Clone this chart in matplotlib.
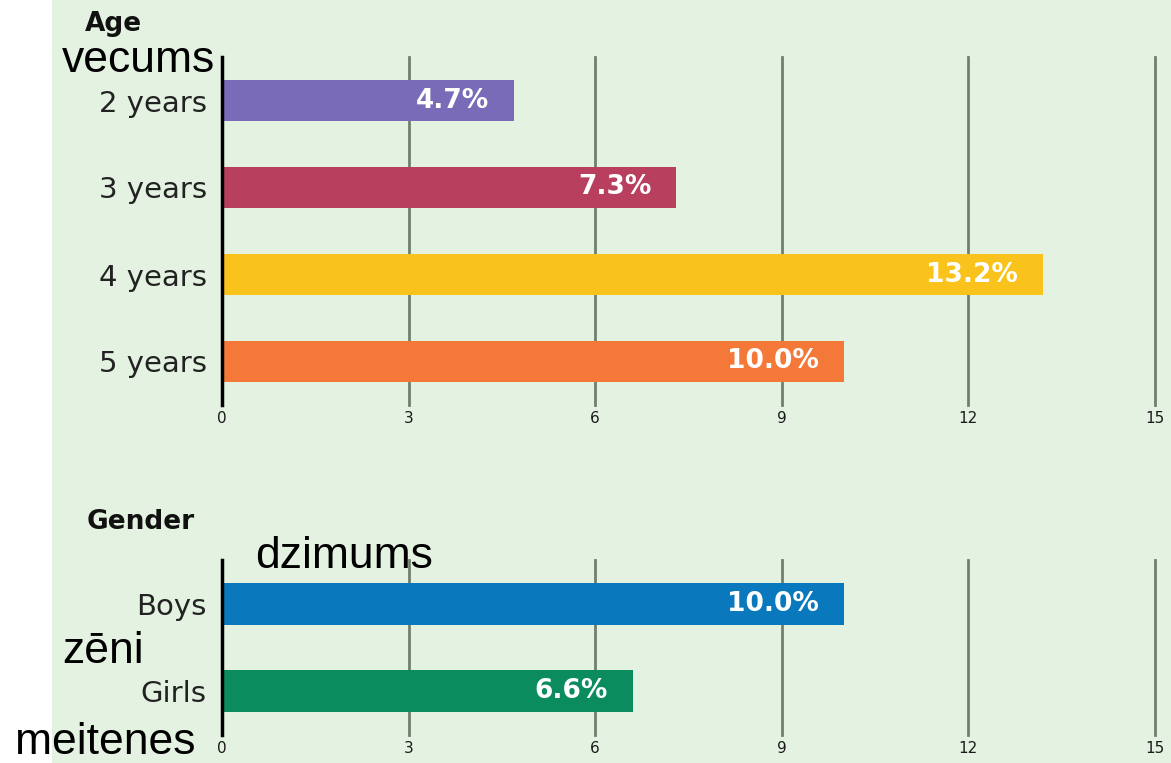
import matplotlib
matplotlib.use('Agg')
import matplotlib.pyplot as plt
from matplotlib.patches import Rectangle

# ── data ──────────────────────────────────────
age_labels = ['2 years', '3 years', '4 years', '5 years']
age_values = [4.7, 7.3, 13.2, 10.0]
age_colors = ['#7a6bb9', '#b8405e', '#f9c31b', '#f47838']

gender_labels = ['Boys', 'Girls']
gender_values = [10.0, 6.6]
gender_colors = ['#0a78bd', '#0b8c5e']

x_ticks = [0, 3, 6, 9, 12, 15]

W, H = 1171, 763
fig = plt.figure(figsize=(W / 100, H / 100), dpi=100, facecolor='white')

# light green panel, white strip on the left
fig.patches.append(Rectangle((52 / W, 0), 1 - 52 / W, 1, transform=fig.transFigure,
                             facecolor='#e4f2e1', edgecolor='none', zorder=-5))

def px_box(left, top, right, bottom):
    return [left / W, 1 - bottom / H, (right - left) / W, (bottom - top) / H]

def draw_panel(ax, labels, values, colors):
    y = list(range(len(labels)))
    ax.set_facecolor('none')
    ax.set_xlim(0, 15)
    ax.set_ylim(len(labels) - 0.5, -0.5)
    for xv in x_ticks[1:]:
        ax.axvline(xv, color='#6f806e', linewidth=2, zorder=1, clip_on=False)
    ax.barh(y, values, height=0.48, color=colors, zorder=2)
    for yi, v in zip(y, values):
        ax.text(v - 0.4, yi, f'{v:.1f}%', ha='right', va='center', color='white',
                fontweight='bold', fontsize=19, zorder=3)
    for s in ['top', 'right', 'bottom']:
        ax.spines[s].set_visible(False)
    ax.spines['left'].set_linewidth(2.5)
    ax.spines['left'].set_color('black')
    ax.spines['left'].set_zorder(4)
    ax.set_yticks(y)
    ax.set_yticklabels(labels, fontsize=21, color='#222222')
    ax.tick_params(axis='y', length=0, pad=11)
    ax.set_xticks(x_ticks)
    ax.set_xticklabels([str(t) for t in x_ticks], fontsize=11, color='#1a1a1a')
    ax.tick_params(axis='x', length=0, pad=4)

ax1 = fig.add_axes(px_box(222, 57, 1155, 405))
draw_panel(ax1, age_labels, age_values, age_colors)

ax2 = fig.add_axes(px_box(222, 560, 1155, 735))
draw_panel(ax2, gender_labels, gender_values, gender_colors)

fig.text(85 / W, 1 - 24 / H, 'Age', fontsize=19, fontweight='bold', va='center', color='#111111')
fig.text(87 / W, 1 - 522 / H, 'Gender', fontsize=19, fontweight='bold', va='center', color='#111111')

# overlaid translations
over = dict(family='Liberation Sans', fontsize=32, color='black', va='baseline', zorder=10)
fig.text(62 / W, 1 - 72 / H, 'vecums', **over)
fig.text(255 / W, 1 - 568 / H, 'dzimums', **over)
fig.text(62 / W, 1 - 663 / H, 'zēni', **over)
fig.text(15 / W, 1 - 754 / H, 'meitenes', **over)

fig.savefig('out.png', dpi=100, facecolor=fig.get_facecolor())
